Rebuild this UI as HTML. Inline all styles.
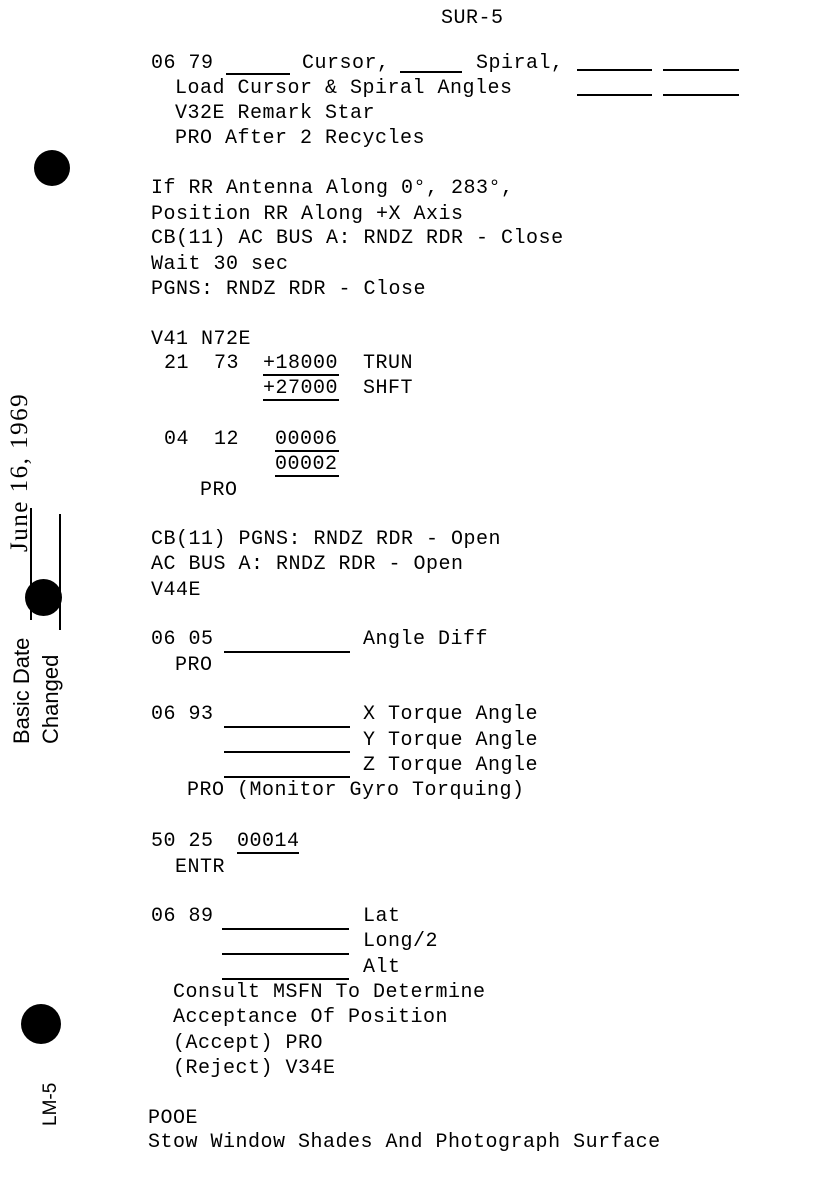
<!DOCTYPE html>
<html><head><style>
body{margin:0;width:818px;height:1196px;background:#fff;position:relative;overflow:hidden}
.t{position:absolute;font-family:"Liberation Mono",monospace;font-size:20px;letter-spacing:0.5px;line-height:24px;color:#000;white-space:pre;margin-top:2px}
.l{position:absolute;height:1.5px;background:#000}
.v{position:absolute;width:2px;background:#000}
.c{position:absolute;border-radius:50%;background:#000}
.r{position:absolute;font-family:"Liberation Sans",sans-serif;font-size:22px;color:#000;white-space:pre;transform-origin:0 0;transform:rotate(-90deg)}
</style></head><body>
<div class="t" style="left:441px;top:5px">SUR-5</div>
<div class="t" style="left:151px;top:50px">06 79</div>
<div class="t" style="left:302px;top:50px">Cursor,</div>
<div class="t" style="left:476px;top:50px">Spiral,</div>
<div class="l" style="left:226px;width:64px;top:73px"></div>
<div class="l" style="left:400px;width:62px;top:71px"></div>
<div class="l" style="left:577px;width:75px;top:69px"></div>
<div class="l" style="left:663px;width:76px;top:69px"></div>
<div class="l" style="left:577px;width:75px;top:94px"></div>
<div class="l" style="left:663px;width:76px;top:94px"></div>
<div class="t" style="left:175px;top:75px">Load Cursor &amp; Spiral Angles</div>
<div class="t" style="left:175px;top:100px">V32E Remark Star</div>
<div class="t" style="left:175px;top:125px">PRO After 2 Recycles</div>
<div class="t" style="left:151px;top:175px">If RR Antenna Along 0°, 283°,</div>
<div class="t" style="left:151px;top:201px">Position RR Along +X Axis</div>
<div class="t" style="left:151px;top:225px">CB(11) AC BUS A: RNDZ RDR - Close</div>
<div class="t" style="left:151px;top:251px">Wait 30 sec</div>
<div class="t" style="left:151px;top:276px">PGNS: RNDZ RDR - Close</div>
<div class="t" style="left:151px;top:326px">V41 N72E</div>
<div class="t" style="left:164px;top:350px">21  73</div>
<div class="t" style="left:263px;top:350px">+18000  TRUN</div>
<div class="t" style="left:263px;top:375px">+27000  SHFT</div>
<div class="l" style="left:263px;width:76px;top:374px"></div>
<div class="l" style="left:263px;width:76px;top:399px"></div>
<div class="t" style="left:164px;top:426px">04  12</div>
<div class="t" style="left:275px;top:426px">00006</div>
<div class="t" style="left:275px;top:451px">00002</div>
<div class="l" style="left:275px;width:64px;top:450px"></div>
<div class="l" style="left:275px;width:64px;top:475px"></div>
<div class="t" style="left:200px;top:477px">PRO</div>
<div class="t" style="left:151px;top:526px">CB(11) PGNS: RNDZ RDR - Open</div>
<div class="t" style="left:151px;top:551px">AC BUS A: RNDZ RDR - Open</div>
<div class="t" style="left:151px;top:577px">V44E</div>
<div class="t" style="left:151px;top:626px">06 05</div>
<div class="l" style="left:224px;width:126px;top:651px"></div>
<div class="t" style="left:363px;top:626px">Angle Diff</div>
<div class="t" style="left:175px;top:652px">PRO</div>
<div class="t" style="left:151px;top:701px">06 93</div>
<div class="t" style="left:363px;top:701px">X Torque Angle</div>
<div class="t" style="left:363px;top:727px">Y Torque Angle</div>
<div class="t" style="left:363px;top:752px">Z Torque Angle</div>
<div class="l" style="left:224px;width:126px;top:726px"></div>
<div class="l" style="left:224px;width:126px;top:751px"></div>
<div class="l" style="left:224px;width:126px;top:776px"></div>
<div class="t" style="left:187px;top:777px">PRO (Monitor Gyro Torquing)</div>
<div class="t" style="left:151px;top:828px">50 25</div>
<div class="t" style="left:237px;top:828px">00014</div>
<div class="l" style="left:237px;width:62px;top:852px"></div>
<div class="t" style="left:175px;top:854px">ENTR</div>
<div class="t" style="left:151px;top:903px">06 89</div>
<div class="t" style="left:363px;top:903px">Lat</div>
<div class="t" style="left:363px;top:928px">Long/2</div>
<div class="t" style="left:363px;top:954px">Alt</div>
<div class="l" style="left:222px;width:127px;top:928px"></div>
<div class="l" style="left:222px;width:127px;top:953px"></div>
<div class="l" style="left:222px;width:127px;top:978px"></div>
<div class="t" style="left:173px;top:979px">Consult MSFN To Determine</div>
<div class="t" style="left:173px;top:1004px">Acceptance Of Position</div>
<div class="t" style="left:173px;top:1030px">(Accept) PRO</div>
<div class="t" style="left:173px;top:1055px">(Reject) V34E</div>
<div class="t" style="left:148px;top:1105px">POOE</div>
<div class="t" style="left:148px;top:1129px">Stow Window Shades And Photograph Surface</div>

<div class="c" style="left:34px;top:150px;width:36px;height:36px"></div>
<div class="c" style="left:25px;top:579px;width:37px;height:37px"></div>
<div class="c" style="left:21px;top:1004px;width:40px;height:40px"></div>

<div class="r" style="left:6px;top:552px;font-family:'Liberation Serif',serif;font-size:25px;letter-spacing:1.5px">June 16, 1969</div>
<div class="r" style="left:9px;top:744px">Basic Date</div>
<div class="r" style="left:38px;top:744px">Changed</div>
<div class="r" style="left:40px;top:1126px;font-size:19px">LM-5</div>
<div class="v" style="left:30px;top:508px;height:112px"></div>
<div class="v" style="left:59px;top:514px;height:116px"></div>
</body></html>
